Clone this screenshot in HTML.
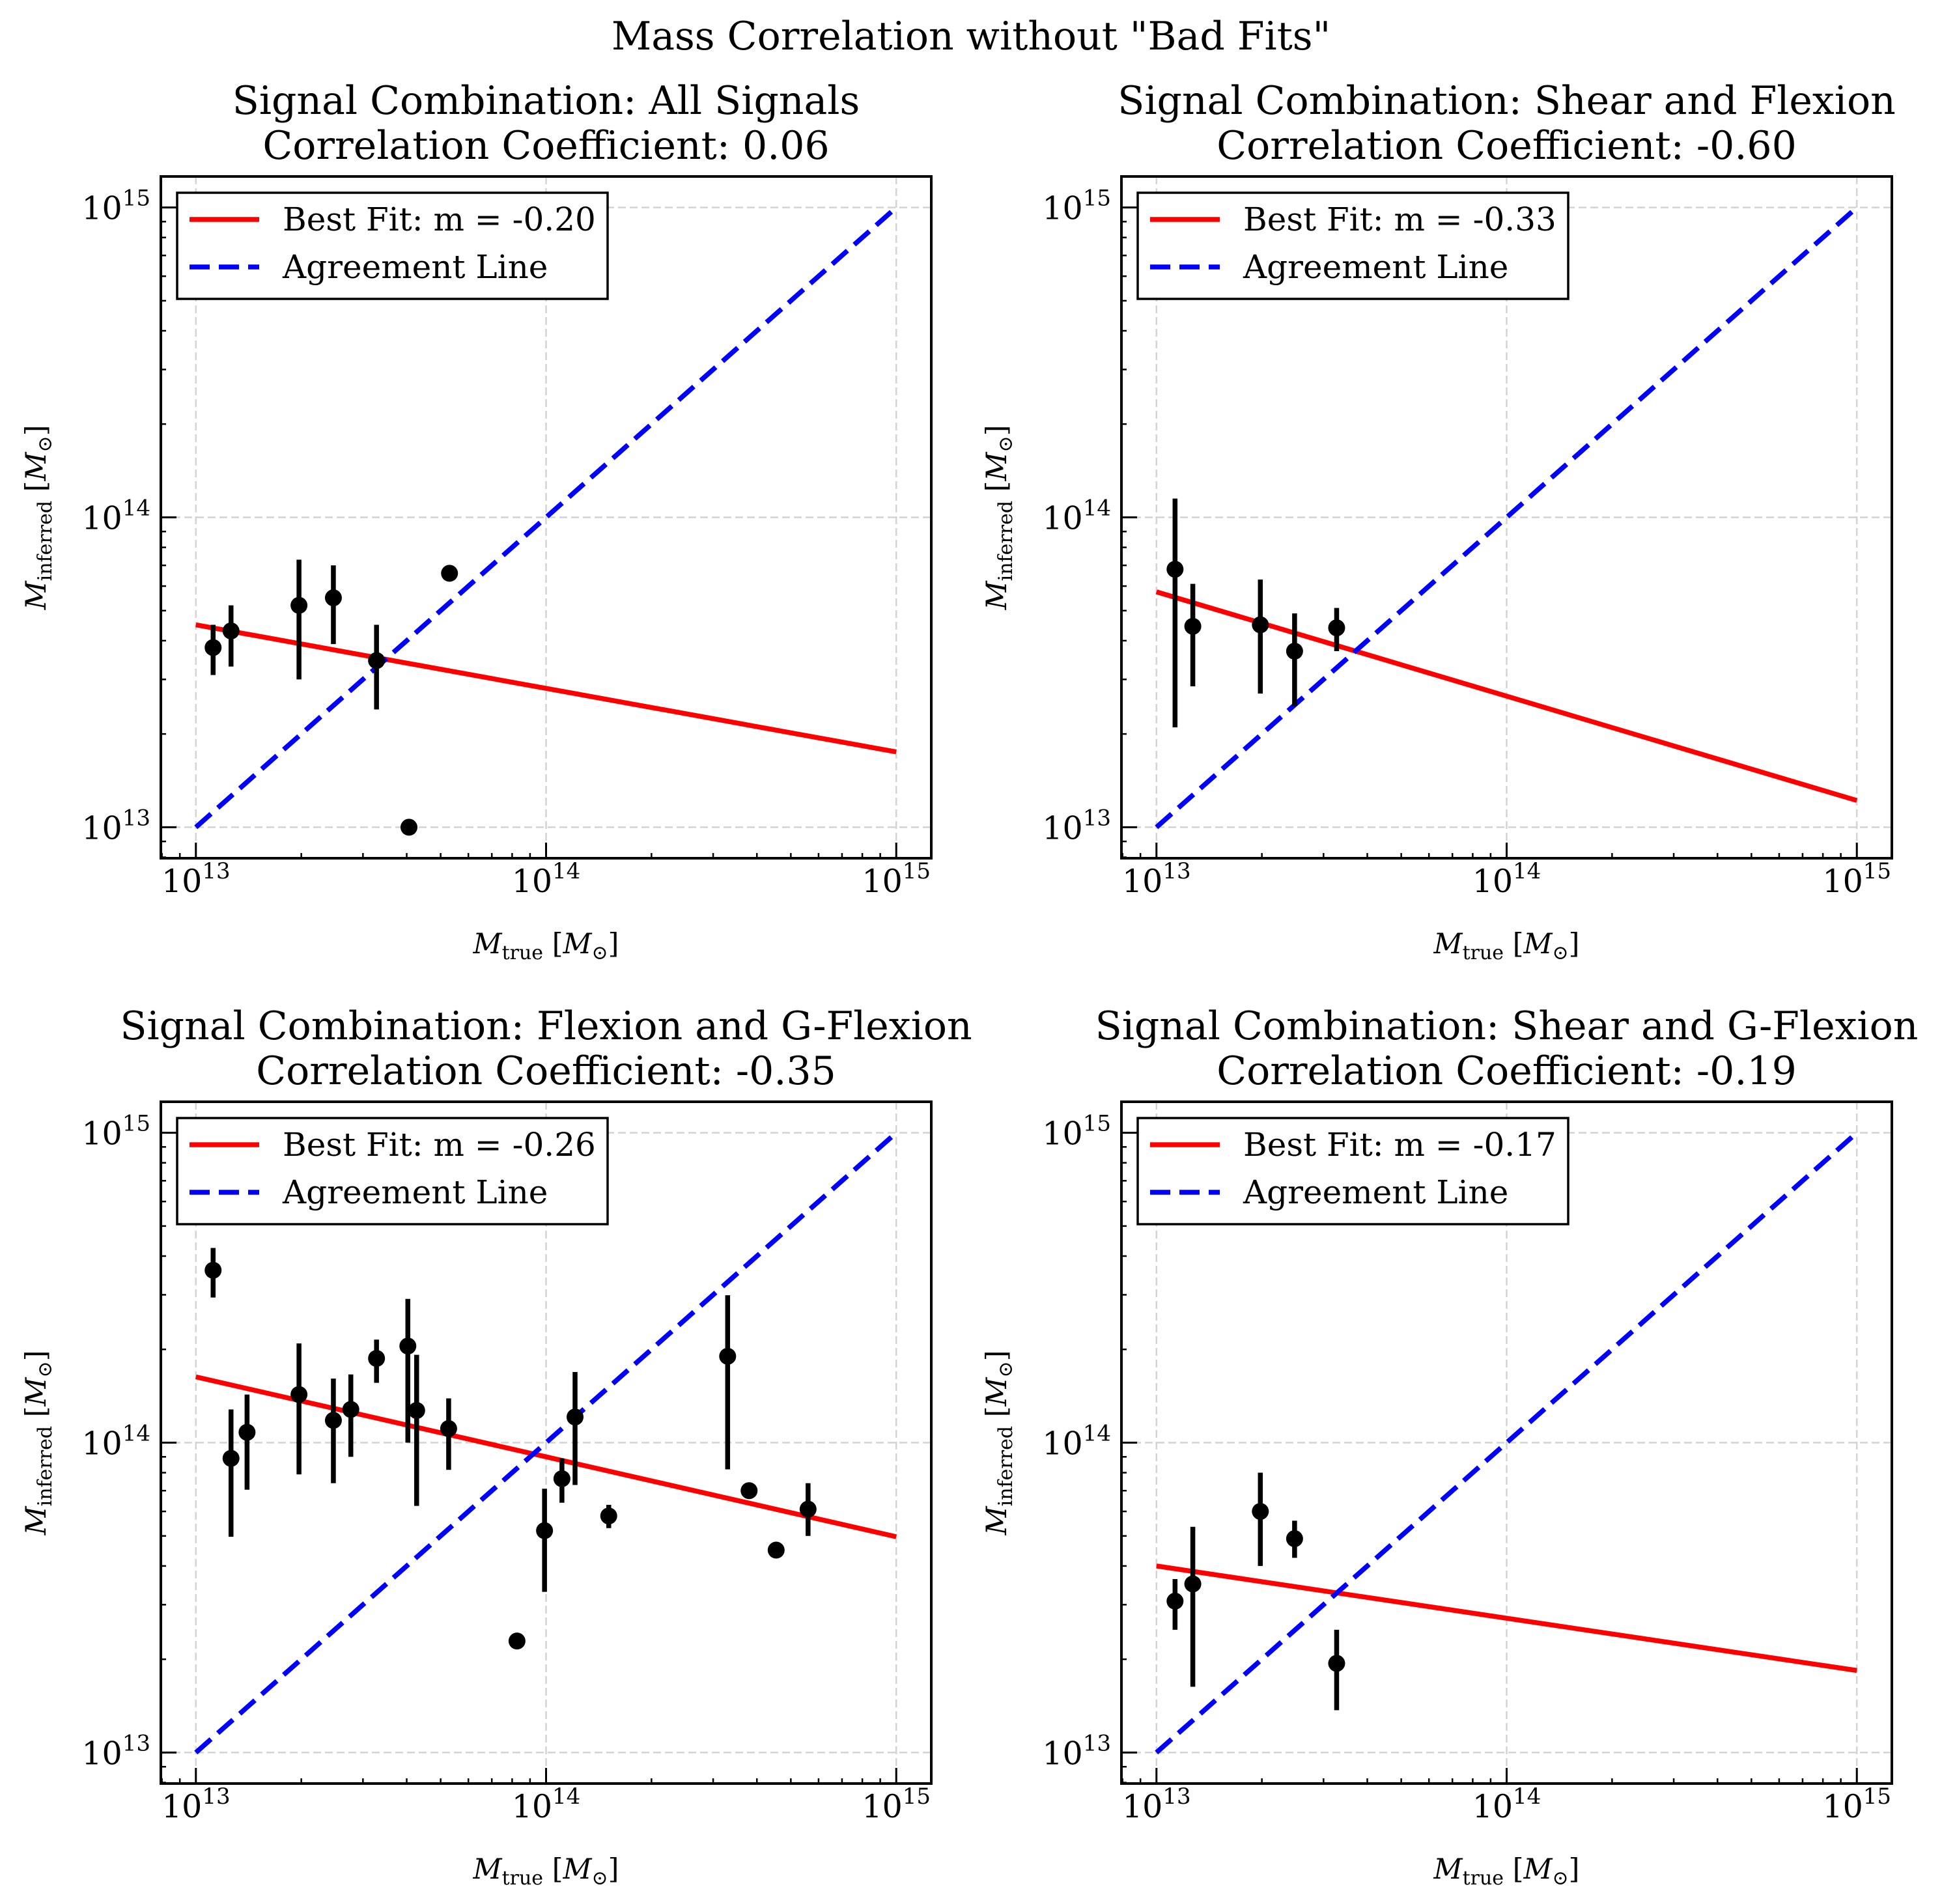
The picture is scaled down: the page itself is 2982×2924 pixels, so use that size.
<!DOCTYPE html>
<html><head><meta charset="utf-8"><style>
html,body{margin:0;padding:0;background:#fff;}
svg{display:block;}
text{font-family:"DejaVu Serif","Liberation Serif",serif;fill:#000;}
</style></head><body>
<svg id="fig" xmlns="http://www.w3.org/2000/svg" width="2982" height="2924" viewBox="0 0 2982 2924">
<rect x="0" y="0" width="2982" height="2924" fill="#fff"/>
<text x="1491" y="76" font-size="60" text-anchor="middle">Mass Correlation without "Bad Fits"</text>
</svg>
<script>
// ---- data: top-left (All Signals)
const tlX=[1.12e13,1.26e13,1.97e13,2.47e13,3.28e13,4.06e13,5.3e13];
const tlY=[3.8e13,4.3e13,5.2e13,5.5e13,3.45e13,1.0e13,6.6e13];
const tlLo=[3.1e13,3.3e13,3.0e13,3.9e13,2.4e13,1.0e13,6.6e13];
const tlHi=[4.5e13,5.2e13,7.3e13,7.0e13,4.5e13,1.0e13,6.6e13];
const tlFit=[4.5e13,1.75e13];
// ---- top-right (Shear and Flexion)
const trX=[1.13e13,1.27e13,1.98e13,2.48e13,3.27e13];
const trY=[6.8e13,4.45e13,4.5e13,3.7e13,4.4e13];
const trLo=[2.1e13,2.85e13,2.7e13,2.46e13,3.7e13];
const trHi=[1.15e14,6.1e13,6.3e13,4.9e13,5.1e13];
const trFit=[5.75e13,1.22e13];
// ---- bottom-left (Flexion and G-Flexion)
const blX=[1.12e13,1.26e13,1.40e13,1.97e13,2.47e13,2.77e13,3.28e13,4.03e13,4.27e13,5.27e13,8.26e13,9.9e13,1.11e14,1.21e14,1.51e14,3.30e14,3.8e14,4.54e14,5.6e14];
const blY=[3.6e14,8.9e13,1.08e14,1.43e14,1.18e14,1.28e14,1.87e14,2.05e14,1.27e14,1.11e14,2.29e13,5.2e13,7.65e13,1.21e14,5.8e13,1.9e14,7.0e13,4.5e13,6.1e13];
const blLo=[2.94e14,4.97e13,7.05e13,7.9e13,7.4e13,9.0e13,1.56e14,1.0e14,6.25e13,8.17e13,2.29e13,3.3e13,6.4e13,7.3e13,5.3e13,8.2e13,7.0e13,4.5e13,5.0e13];
const blHi=[4.25e14,1.28e14,1.43e14,2.09e14,1.61e14,1.66e14,2.15e14,2.91e14,1.92e14,1.39e14,2.29e13,7.1e13,8.9e13,1.69e14,6.3e13,2.99e14,7.0e13,4.5e13,7.4e13];
const blFit=[1.63e14,4.97e13];
// ---- bottom-right (Shear and G-Flexion)
const brX=[1.13e13,1.27e13,1.98e13,2.48e13,3.27e13];
const brY=[3.08e13,3.5e13,6.0e13,4.9e13,1.94e13];
const brLo=[2.49e13,1.63e13,4.0e13,4.25e13,1.37e13];
const brHi=[3.63e13,5.35e13,8.0e13,5.6e13,2.49e13];
const brFit=[4.0e13,1.84e13];
const fitX=[1e13,1e15];
const agreeX=[1e13,1e15];
const agreeY=[1e13,1e15];

const NS="http://www.w3.org/2000/svg";
const svg=document.getElementById('fig');
function mk(tag,attrs,parent){const e=document.createElementNS(NS,tag);for(const k in attrs)e.setAttribute(k,attrs[k]);(parent||svg).appendChild(e);return e;}

const W=1183,H=1047,LMIN=12.9,LMAX=15.1;
function panel(key,L,T,t1,t2,xs,ys,lo,hi,fit,slopeLabel){
  const g=mk('g',{});
  
  
  const X=v=>L+(Math.log10(v)-LMIN)/(LMAX-LMIN)*W;
  const Y=v=>T+(LMAX-Math.log10(v))/(LMAX-LMIN)*H;
  const cx=L+W/2;
  let t=mk('text',{x:cx,y:T-96,'font-size':60,'text-anchor':'middle'},g);t.textContent=t1;
  
  
  t=mk('text',{x:cx,y:T-27,'font-size':60,'text-anchor':'middle'},g);t.textContent=t2;
  
  
  // grid
  [13,14,15].forEach(d=>{
    let l=mk('line',{x1:X(10**d),x2:X(10**d),y1:T,y2:T+H,stroke:'#d3d3d3','stroke-width':2.5,'stroke-dasharray':'12,6'},g);
    
    
    l=mk('line',{x1:L,x2:L+W,y1:Y(10**d),y2:Y(10**d),stroke:'#d3d3d3','stroke-width':2.5,'stroke-dasharray':'12,6'},g);
    
    
  });
  // fit line
  let fl=mk('line',{x1:X(fitX[0]),y1:Y(fit[0]),x2:X(fitX[1]),y2:Y(fit[1]),stroke:'#ff0000','stroke-width':7.5},g);
  
  
  let al=mk('line',{x1:X(agreeX[0]),y1:Y(agreeY[0]),x2:X(agreeX[1]),y2:Y(agreeY[1]),stroke:'#0000ff','stroke-width':7.5,'stroke-dasharray':'31,14'},g);
  
  
  // points
  xs.forEach((xv,i)=>{
    if(hi[i]!==lo[i]){
      const e=mk('line',{x1:X(xv),x2:X(xv),y1:Y(hi[i]),y2:Y(lo[i]),stroke:'#000','stroke-width':7.5},g);
      
      
    }
    const c=mk('circle',{cx:X(xv),cy:Y(ys[i]),r:13,fill:'#000'},g);
    
    
  });
  // frame
  const f=mk('rect',{x:L,y:T,width:W,height:H,fill:'none',stroke:'#000','stroke-width':4},g);
  
  
  // ticks
  for(let d=12;d<=15;d++){
    for(let m=1;m<=9;m++){
      const v=m*10**d,lv=Math.log10(v);
      if(lv<LMIN-1e-9||lv>LMAX+1e-9)continue;
      const len=m===1?24:8;
      let tk=mk('line',{x1:X(v),x2:X(v),y1:T+H,y2:T+H-len,stroke:'#000','stroke-width':m===1?3:2.5},g);
      
      
      tk=mk('line',{x1:L,x2:L+len,y1:Y(v),y2:Y(v),stroke:'#000','stroke-width':m===1?3:2.5},g);
      
      
    }
  }
  [13,14,15].forEach(d=>{
    let tx=mk('text',{x:X(10**d),y:T+H+52,'font-size':49,'text-anchor':'middle'},g);
    tx.innerHTML='10<tspan font-size="34" dy="-21">'+d+'</tspan>';
    
    
    let ty=mk('text',{x:L-16,y:Y(10**d)+18,'font-size':49,'text-anchor':'end'},g);
    ty.innerHTML='10<tspan font-size="34" dy="-21">'+d+'</tspan>';
    
    
  });
  // axis labels
  let xl=mk('text',{x:cx,y:T+H+146,'font-size':43,'text-anchor':'middle'},g);
  xl.innerHTML='<tspan font-style="italic">M</tspan><tspan font-size="30" dy="9">true</tspan><tspan dy="-9"> [</tspan><tspan font-style="italic">M</tspan><tspan font-size="30" dy="9">⊙</tspan><tspan dy="-9">]</tspan>';
  
  
  let yl=mk('text',{x:0,y:0,'font-size':43,'text-anchor':'middle',transform:'translate('+(L-177)+','+(T+H/2)+') rotate(-90)'},g);
  yl.innerHTML='<tspan font-style="italic">M</tspan><tspan font-size="30" dy="9">inferred</tspan><tspan dy="-9"> [</tspan><tspan font-style="italic">M</tspan><tspan font-size="30" dy="9">⊙</tspan><tspan dy="-9">]</tspan>';
  
  
  // legend
  const lg=mk('g',{},g);
  
  
  mk('rect',{x:L+25,y:T+25,width:661,height:163,fill:'#fff',stroke:'#000','stroke-width':3.5},lg);
  let le=mk('line',{x1:L+44,x2:L+151,y1:T+66,y2:T+66,stroke:'#ff0000','stroke-width':7.5},lg);
  
  
  let lt=mk('text',{x:L+187,y:T+83,'font-size':50},lg);lt.textContent='Best Fit: m = '+slopeLabel;
  
  
  le=mk('line',{x1:L+44,x2:L+151,y1:T+139,y2:T+139,stroke:'#0000ff','stroke-width':7.5,'stroke-dasharray':'31,14'},lg);
  
  
  lt=mk('text',{x:L+187,y:T+156,'font-size':50},lg);lt.textContent='Agreement Line';
  
  
}
panel('all-signals',247,271,'Signal Combination: All Signals','Correlation Coefficient: 0.06',tlX,tlY,tlLo,tlHi,tlFit,'-0.20');
panel('shear-flexion',1722,271,'Signal Combination: Shear and Flexion','Correlation Coefficient: -0.60',trX,trY,trLo,trHi,trFit,'-0.33');
panel('flexion-gflexion',247,1692,'Signal Combination: Flexion and G-Flexion','Correlation Coefficient: -0.35',blX,blY,blLo,blHi,blFit,'-0.26');
panel('shear-gflexion',1722,1692,'Signal Combination: Shear and G-Flexion','Correlation Coefficient: -0.19',brX,brY,brLo,brHi,brFit,'-0.17');
</script>
</body></html>
